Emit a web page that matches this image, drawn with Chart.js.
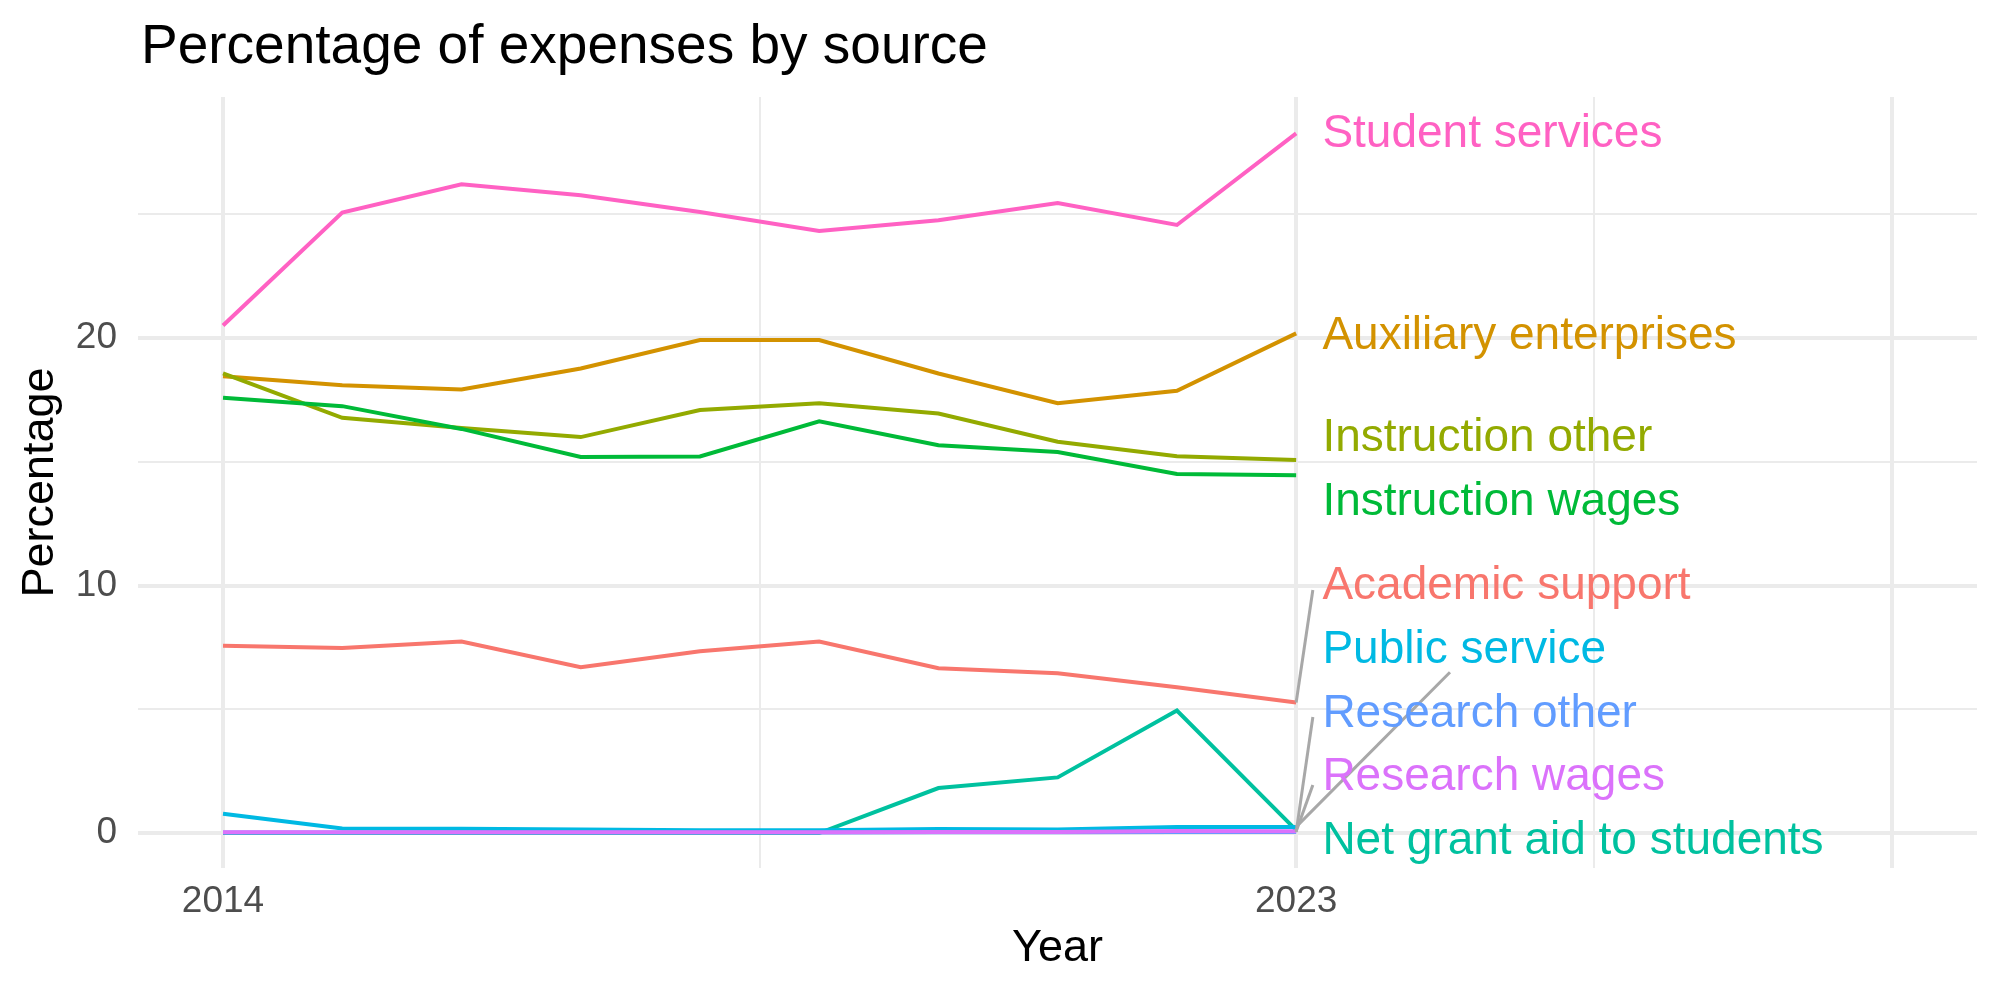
<!DOCTYPE html>
<html>
<head>
<meta charset="utf-8">
<script src="https://cdn.jsdelivr.net/npm/chart.js@4/dist/chart.umd.min.js"></script>
<style>
  body { margin: 0; background: #fff; }
  #wrap { width: 2000px; height: 1000px; }
</style>
</head>
<body>
<div id="wrap"><canvas id="chart" width="2000" height="1000"></canvas></div>
<script>
const years = [2014, 2015, 2016, 2017, 2018, 2019, 2020, 2021, 2022, 2023];

const seriesNames = [
  'Academic support', 'Auxiliary enterprises', 'Instruction other', 'Instruction wages',
  'Net grant aid to students', 'Public service', 'Research other', 'Research wages', 'Student services'
];

const academicSupport      = [7.57, 7.48, 7.74, 6.70, 7.35, 7.74, 6.66, 6.46, 5.89, 5.28];
const auxiliaryEnterprises = [18.46, 18.09, 17.92, 18.77, 19.92, 19.92, 18.57, 17.37, 17.87, 20.19];
const instructionOther     = [18.57, 16.78, 16.37, 16.00, 17.09, 17.37, 16.95, 15.81, 15.23, 15.07];
const instructionWages     = [17.59, 17.25, 16.33, 15.20, 15.22, 16.64, 15.67, 15.40, 14.51, 14.46];
const netGrantAid          = [0.00, 0.00, 0.00, 0.00, 0.00, 0.00, 1.82, 2.25, 4.95, 0.12];
const publicService        = [0.78, 0.19, 0.18, 0.15, 0.12, 0.12, 0.17, 0.15, 0.25, 0.25];
const researchOther        = [0.02, 0.02, 0.02, 0.02, 0.02, 0.02, 0.03, 0.03, 0.04, 0.04];
const researchWages        = [0.03, 0.03, 0.03, 0.03, 0.03, 0.03, 0.04, 0.04, 0.08, 0.07];
const studentServices      = [20.51, 25.07, 26.21, 25.77, 25.09, 24.33, 24.76, 25.46, 24.57, 28.27];

const seriesValues = [
  academicSupport, auxiliaryEnterprises, instructionOther, instructionWages,
  netGrantAid, publicService, researchOther, researchWages, studentServices
];

const xTicks = [2014, 2018.5, 2023, 2025.5, 2028];
const xTickLabels = { 2014: '2014', 2023: '2023' };
const yTicks = [0, 5, 10, 15, 20, 25];
const yTickLabels = { 0: '0', 10: '10', 20: '20' };

// ggplot hue palette, 9 levels
const colors = ['#F8766D', '#D39200', '#93AA00', '#00BA38', '#00C19F', '#00B9E3', '#619CFF', '#DB72FB', '#FF61C3'];

const FONT = '"Liberation Sans", Arial, Helvetica, sans-serif';

// repelled label placement (data units) and leader segment ends
const labelX = 2023.22;
const labelY = [9.98, 20.08, 15.96, 13.37, -0.32, 7.39, 4.81, 2.26, 28.24];
const segmentEnd = [[2023.14, 9.82], null, null, null, null, [2024.29, 6.5], [2023.14, 4.69], [2023.14, 1.94], null];

const datasets = seriesNames.map((name, i) => ({
  label: name,
  data: years.map((y, j) => ({ x: y, y: seriesValues[i][j] })),
  borderColor: colors[i],
  backgroundColor: colors[i],
  borderWidth: 4,
  pointRadius: 0,
  tension: 0,
  fill: false,
  order: seriesNames.length - i
}));

const titlePlugin = {
  id: 'plotTitle',
  afterDraw(chart) {
    const ctx = chart.ctx;
    ctx.save();
    ctx.font = '55px ' + FONT;
    ctx.fillStyle = '#000';
    ctx.textAlign = 'left';
    ctx.textBaseline = 'alphabetic';
    ctx.fillText('Percentage of expenses by source', 141, 63);
    ctx.restore();
  }
};

const labelPlugin = {
  id: 'endLabels',
  afterDatasetsDraw(chart) {
    const ctx = chart.ctx;
    const xs = chart.scales.x, ys = chart.scales.y;
    const last = years.length - 1;
    ctx.save();
    seriesNames.forEach((name, i) => {
      const seg = segmentEnd[i];
      if (seg) {
        ctx.beginPath();
        ctx.strokeStyle = '#A8A8A8';
        ctx.lineWidth = 3;
        ctx.moveTo(xs.getPixelForValue(years[last]), ys.getPixelForValue(seriesValues[i][last]));
        ctx.lineTo(xs.getPixelForValue(seg[0]), ys.getPixelForValue(seg[1]));
        ctx.stroke();
      }
      ctx.font = '46px ' + FONT;
      ctx.fillStyle = colors[i];
      ctx.textAlign = 'left';
      ctx.textBaseline = 'middle';
      ctx.fillText(name, xs.getPixelForValue(labelX), ys.getPixelForValue(labelY[i]));
    });
    ctx.restore();
  }
};

new Chart(document.getElementById('chart').getContext('2d'), {
  type: 'line',
  data: { datasets },
  options: {
    responsive: false,
    animation: false,
    layout: { padding: { top: 97, right: 23, left: 0, bottom: 0 } },
    plugins: {
      legend: { display: false },
      tooltip: { enabled: false },
      title: { display: false }
    },
    scales: {
      x: {
        type: 'linear',
        min: 2013.287,
        max: 2028.71,
        afterBuildTicks: s => { s.ticks = xTicks.map(v => ({ value: v })); },
        afterFit: s => { s.height = 132; },
        ticks: {
          autoSkip: false,
          maxRotation: 0,
          padding: 12,
          color: '#4D4D4D',
          font: { family: FONT, size: 37 },
          callback: v => xTickLabels[v] || ''
        },
        grid: {
          color: '#EBEBEB',
          drawTicks: false,
          lineWidth: c => (c.tick && xTickLabels[c.tick.value] !== undefined) || (c.tick && c.tick.value === 2028) ? 4 : 2
        },
        border: { display: false },
        title: {
          display: true,
          text: 'Year',
          color: '#000',
          font: { family: FONT, size: 45 },
          padding: { top: 0, bottom: 24 }
        }
      },
      y: {
        min: -1.41,
        max: 29.74,
        afterBuildTicks: s => { s.ticks = yTicks.map(v => ({ value: v })); },
        afterFit: s => { s.width = 138; },
        ticks: {
          padding: 21,
          color: '#4D4D4D',
          font: { family: FONT, size: 37 },
          callback: v => yTickLabels[v] || ''
        },
        grid: {
          color: '#EBEBEB',
          drawTicks: false,
          lineWidth: c => (c.tick && yTickLabels[c.tick.value] !== undefined) ? 4 : 2
        },
        border: { display: false },
        title: {
          display: true,
          text: 'Percentage',
          color: '#000',
          font: { family: FONT, size: 45 },
          padding: { top: 14, bottom: 0 }
        }
      }
    }
  },
  plugins: [titlePlugin, labelPlugin]
});
</script>
</body>
</html>
